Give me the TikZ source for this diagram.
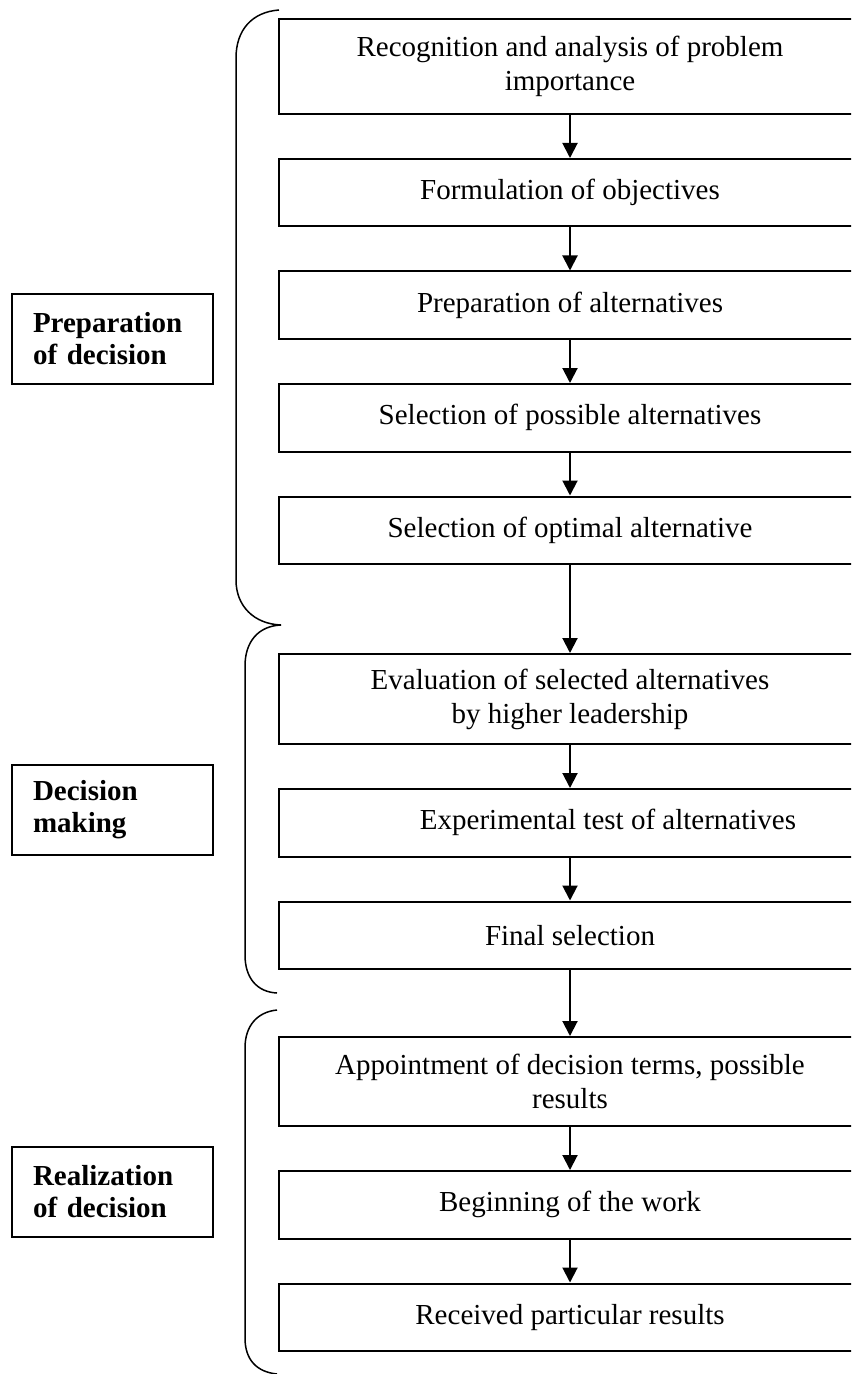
\documentclass[tikz,border=0pt]{standalone}
\usepackage{fontspec}
\setmainfont{Liberation Serif}
\usetikzlibrary{arrows.meta, positioning}
\tikzstyle{stage} = [rectangle, minimum width=291pt, minimum height=33.75pt, text centered, align=center, draw=black, line width=1pt, font=\fontsize{14.5}{17}\selectfont]
\tikzstyle{phase} = [rectangle, minimum height=45pt, text width=79.5pt, inner xsep=10.5pt, align=left, draw=black, line width=1pt, font=\fontsize{14.5}{16}\selectfont\bfseries]
\tikzstyle{flow} = [line width=1pt, -{Triangle[length=7.5pt, width=7.5pt]}]
\tikzstyle{brace} = [line width=0.75pt]

\begin{document}
\begin{tikzpicture}[x=0.5pt, y=-0.5pt, node distance=21.5pt]
				\useasboundingbox (0,0) rectangle (851,1374);
				\clip (0,0) rectangle (851,1374);
				\node (recog) [stage, minimum height=47.5pt] at (570,66.5) {Recognition and analysis of problem\\importance};
				\node (formul) [stage, below=of recog] {Formulation of objectives};
				\node (prepalt) [stage, below=of formul] {Preparation of alternatives};
				\node (selposs) [stage, below=of prepalt] {Selection of possible alternatives};
				\node (selopt) [stage, below=of selposs] {Selection of optimal alternative};
				\node (evalalt) [stage, minimum height=45pt, below=44pt of selopt] {Evaluation of selected alternatives\\by higher leadership};
				\node (exptest) [stage, below=of evalalt] {\hspace*{38pt}Experimental test of alternatives};
				\node (finsel) [stage, below=of exptest] {Final selection};
				\node (appoint) [stage, minimum height=44.5pt, below=33pt of finsel] {Appointment of decision terms, possible\\results};
				\node (begwork) [stage, below=of appoint] {Beginning of the work};
				\node (results) [stage, below=of begwork] {Received particular results};
				
				\node (prepdec) [phase] at (112.5,339) {Preparation\\of decision};
				\node (decmak) [phase] at (112.5,810) {Decision\\making};
				\node (realdec) [phase] at (112.5,1192) {Realization\\of decision};
				
				\draw[flow] (recog) -- (formul);
				\draw[flow] (formul) -- (prepalt);
				\draw[flow] (prepalt) -- (selposs);
				\draw[flow] (selposs) -- (selopt);
				\draw[flow] (selopt) -- (evalalt);
				\draw[flow] (evalalt) -- (exptest);
				\draw[flow] (exptest) -- (finsel);
				\draw[flow] (finsel) -- (appoint);
				\draw[flow] (appoint) -- (begwork);
				\draw[flow] (begwork) -- (results);
				
				% braces
				\draw[brace] (279,10) .. controls (252,12) and (236,30) .. (236,58) -- (236,580) .. controls (236,606) and (254,624) .. (281,625);
				\draw[brace] (281,625) .. controls (258,626) and (245,642) .. (245,666) -- (245,955) .. controls (245,978) and (257,992) .. (277,993);
				\draw[brace] (277,1010) .. controls (257,1012) and (245,1026) .. (245,1048) -- (245,1338) .. controls (245,1360) and (257,1372) .. (277,1374);
			\end{tikzpicture}
\end{document}
